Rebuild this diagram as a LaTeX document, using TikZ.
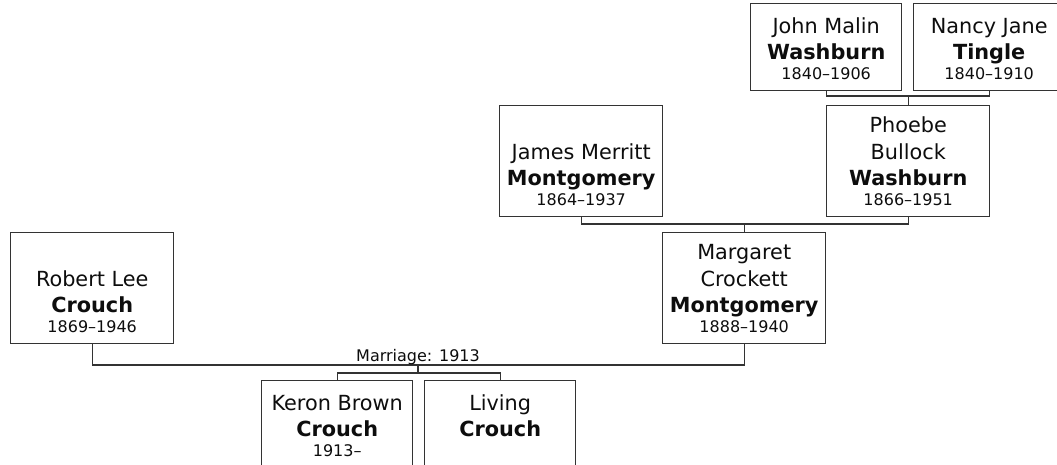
\documentclass[tikz,border=0pt]{standalone}
\usepackage{fontspec}
\setmainfont{DejaVu Sans}
\newcommand{\who}[3]{#1\\\textbf{#2}\\[-6.5pt]{\fontsize{16}{20}\selectfont #3}}

\begin{document}
\begin{tikzpicture}[x=1pt, y=-1pt,
    person/.style={draw=black!80, line width=1.4pt, align=center, anchor=north west,
      inner xsep=0pt, inner ysep=11pt, text depth=0pt, text=black!95,
      font=\fontsize{20.8}{26.5}\selectfont},
    tall/.style={person, minimum width=163pt, text height=89pt},
    short/.style={person, minimum width=151pt, text height=65pt},
    link/.style={draw=black!80, line width=1.4pt}]
  \useasboundingbox (0,0) rectangle (1057,464);
  % grandparents
  \node[short] (john) at (750,3) {\who{John Malin}{Washburn}{1840--1906}};
  \node[short] (nancy) at (913,3) {\who{Nancy Jane}{Tingle}{1840--1910}};
  % parents
  \node[tall] (james) at (499,105) {\who{James Merritt}{Montgomery}{1864--1937}};
  \node[tall] (phoebe) at (826,105) {\who{Phoebe\\Bullock}{Washburn}{1866--1951}};
  % couple
  \node[tall] (robert) at (10,232) {\who{Robert Lee}{Crouch}{1869--1946}};
  \node[tall] (margaret) at (662,232) {\who{Margaret\\Crockett}{Montgomery}{1888--1940}};
  % children
  \node[short] (keron) at (261,380) {\who{Keron Brown}{Crouch}{1913--}};
  \node[short] (living) at (424,380) {\who{Living}{Crouch}{}};

  \path (phoebe.north) ++(0,-9) coordinate (wj);
  \path (margaret.north) ++(0,-8) coordinate (mj);
  \coordinate (wed) at (418,365);
  \path (wed) ++(0,8) coordinate (kids);

  \draw[link] (john.south) |- (wj) -| (nancy.south);
  \draw[link] (wj) -- (phoebe.north);
  \draw[link] (james.south) |- (mj) -| (phoebe.south);
  \draw[link] (mj) -- (margaret.north);
  \draw[link] (robert.south) |- (wed) -| (margaret.south);
  \node[font=\fontsize{16}{20}\selectfont, text=black!95, anchor=base] (wedlabel) at (418,361) {Marriage: 1913};
  \draw[link] (wed) -- (kids);
  \draw[link] (keron.north) |- (kids) -| (living.north);
\end{tikzpicture}
\end{document}
